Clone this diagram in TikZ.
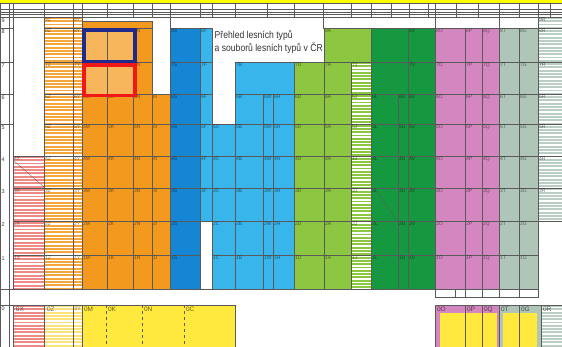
\documentclass[tikz,border=0pt]{standalone}
\usepackage{fontspec}
\setmainfont{Liberation Sans}
\newfontfamily\titlefont[FakeStretch=0.86]{Liberation Sans}
\definecolor{cOr}{HTML}{F39A1E}
\definecolor{cOrL}{HTML}{F7B55C}
\definecolor{cDB}{HTML}{1586D4}
\definecolor{cLB}{HTML}{38B5EA}
\definecolor{cLG}{HTML}{8DC641}
\definecolor{cDG}{HTML}{15983F}
\definecolor{cPk}{HTML}{D486C0}
\definecolor{cGy}{HTML}{AEC5B8}
\definecolor{cYe}{HTML}{FFE93E}
\definecolor{cSal}{HTML}{EE8A86}
\definecolor{cOrS}{HTML}{F5A63A}
\definecolor{cYeS}{HTML}{FBE37A}
\definecolor{cNavy}{HTML}{1F2A8C}
\definecolor{cRed}{HTML}{F01818}
\definecolor{cTop}{HTML}{FFFF00}
\definecolor{cLine}{HTML}{5A5A5A}
\newcommand\hstripes[5]{%
  \begin{scope}
    \clip (#1,#2) rectangle (#3,#4);
    \fill[white] (#1,#2) rectangle (#3,#4);
    \foreach \ii in {0,...,85}{\fill[#5] (#1,{#2+3.3*\ii}) rectangle (#3,{#2+3.3*\ii+1.9});}
  \end{scope}}
% #1 x1, #2 x2, #3 style, #4 letter, #5 top row, #6 bottom row
\newcommand\cellrow[6]{%
  \foreach \r/\ya/\yb in {9/17/28,8/28/62,7/62/94,6/94/124,5/124/156,4/156/188,3/188/221,2/221/255,1/255/289}{%
    \ifnum\r>#5\relax\else\ifnum\r<#6\relax\else
      \draw[cellb,#3] (#1,\ya) rectangle (#2,\yb);
      \node[code] (n\r#4) at (#1,\ya) {\r#4};
    \fi\fi}}
\begin{document}
\begin{tikzpicture}[x=1pt,y=-1pt,
  grid/.style={draw=cLine,line width=0.3pt},
  cellb/.style={draw=cLine,line width=0.35pt},
  code/.style={font=\fontsize{5}{5}\selectfont,text=black,text opacity=0.5,inner sep=0.8pt,anchor=north west},
  bigcode/.style={font=\fontsize{6.5}{6.5}\selectfont,text=black,text opacity=0.6,inner sep=0.8pt,anchor=north west},
  rowno/.style={font=\fontsize{5.5}{5.5}\selectfont,text=black!75,inner sep=0.5pt,anchor=north west},
  box/.style={line width=3.6pt}
]
\useasboundingbox (0,0) rectangle (562,347);
\fill[white] (0,0) rectangle (562,347);
\fill[cTop] (0,0) rectangle (562,3.2);
% header table
\draw[grid] (0,3.2) rectangle (562,17);
\foreach \yy in {9.5,12,14.5} \draw[grid,line width=0.2pt] (0,\yy) -- (562,\yy);
\foreach \xx in {9,13,44,73,82,107,133,152,170,200,212,235,267,294,323,351,371,391,409,428,435,456,478,499,519,538,550}
  \draw[grid,line width=0.2pt] (\xx,3.2) -- (\xx,17);
% left columns
\draw[grid] (0,17) -- (0,289);
\draw[grid] (9,17) -- (9,289);
\draw[grid] (13,17) -- (13,289);
\foreach \yy in {28,62,94,124} \draw[grid] (0,\yy) -- (13,\yy);
\foreach \r/\yy in {9/17,8/28,7/62,6/94,5/124,4/156,3/188,2/221,1/255}
  \node[rowno] (row\r) at (1,{\yy+0.8}) {\r};
\hstripes{13}{156}{44}{289}{cSal}
\cellrow{13}{44}{fill=none}{X}{4}{1}
\draw[grid] (13,160) -- (44,187);
\hstripes{44}{17}{82}{289}{cOrS}
\cellrow{44}{73}{fill=none}{Z}{9}{1}
\cellrow{73}{82}{fill=none}{Y}{9}{1}
% orange block
\draw[cellb,fill=cOr] (82,21) rectangle (152,28);
\cellrow{82}{107}{fill=cOrL}{M}{8}{7}
\cellrow{107}{133}{fill=cOrL}{K}{8}{7}
\cellrow{82}{107}{fill=cOr}{M}{6}{1}
\cellrow{107}{133}{fill=cOr}{K}{6}{1}
\cellrow{133}{152}{fill=cOr}{N}{8}{1}
\cellrow{152}{170}{fill=cOr}{I}{6}{1}
\draw[grid] (170,17) -- (170,28);
% blue blocks
\cellrow{170}{200}{fill=cDB}{S}{8}{1}
\cellrow{200}{212}{fill=cLB}{F}{8}{3}
\cellrow{212}{235}{fill=cLB}{C}{5}{1}
\cellrow{235}{294}{fill=cLB}{B}{7}{7}
\cellrow{235}{263}{fill=cLB}{B}{6}{1}
\foreach \r/\ya/\yb in {6/94/124,5/124/156,4/156/188,3/188/221,2/221/255,1/255/289}{
  \draw[cellb,fill=cLB] (263,\ya) rectangle (273,\yb);
  \node[code] (w\r) at (263,\ya) {\r W};
  \draw[cellb,fill=cLB] (273,\ya) rectangle (294,\yb);
  \node[code] (h\r) at (273,\ya) {\r H};
}
% title
\node[anchor=north west,align=left,inner sep=0pt,text=black!80,
      font=\titlefont\fontsize{10}{12.6}\selectfont] (title) at (214.5,30.5)
  {Přehled lesních typů\\a souborů lesních typů v ČR};
% light green
\cellrow{324}{371}{fill=cLG}{A}{8}{8}
\cellrow{294}{324}{fill=cLG}{D}{7}{1}
\cellrow{324}{351}{fill=cLG}{A}{7}{1}
\hstripes{351}{62}{371}{289}{cLG}
\cellrow{351}{371}{fill=none}{J}{7}{1}
% dark green
\foreach \r/\ya/\yb in {8/28/62,7/62/94}{
  \draw[cellb,fill=cDG] (371,\ya) rectangle (408,\yb);
}
\cellrow{408}{435}{fill=cDG}{V}{8}{1}
\cellrow{371}{398}{fill=cDG}{L}{6}{1}
\cellrow{398}{408}{fill=cDG}{U}{6}{1}
\draw[grid] (374,188) -- (398,222);
% pink
\cellrow{435}{465}{fill=cPk}{O}{8}{1}
\cellrow{465}{482}{fill=cPk}{P}{8}{1}
\cellrow{482}{499}{fill=cPk}{Q}{8}{1}
% grey-green
\cellrow{499}{519}{fill=cGy}{T}{8}{1}
\cellrow{519}{538}{fill=cGy}{G}{8}{1}
% R stripes
\hstripes{538}{17}{562}{221}{cGy!85}
\cellrow{538}{562}{fill=none}{R}{9}{3}
% row 9 band right
\draw[grid] (323,17) rectangle (435,28);
\draw[grid] (435,17) rectangle (499,28);
\draw[grid] (499,17) rectangle (538,28);
% small table under the pink / grey blocks
\draw[grid] (435,289) rectangle (538,297);
\foreach \xx in {455,465,482,499,519} \draw[grid] (\xx,289) -- (\xx,297);
% gap row
\draw[grid] (0,289) -- (235,289);
\draw[grid] (0,289) -- (0,347);
\draw[grid] (9,289) -- (9,347);
% row 0
\draw[grid] (0,305) -- (235,305);
\node[rowno] (row0) at (1,306) {0};
\hstripes{13}{305}{44}{347}{cSal}
\hstripes{44}{305}{82}{347}{cYeS}
\draw[grid] (13,305) rectangle (44,347);
\draw[grid] (44,305) rectangle (73,347);
\draw[grid] (73,305) rectangle (82,347);
\node[bigcode] (n0X) at (15,306) {0X};
\node[bigcode] (n0Z) at (46,306) {0Z};
\node[code] (n0Y) at (73.5,306) {0Y};
\draw[cellb,fill=cYe] (82,305) rectangle (235,347);
\foreach \xx in {106,142,184} \draw[grid,dashed] (\xx,305) -- (\xx,347);
\node[bigcode] (n0M) at (83,306) {0M};
\node[bigcode] (n0K) at (107,306) {0K};
\node[bigcode] (n0N) at (143,306) {0N};
\node[bigcode] (n0C) at (185,306) {0C};
% row 0 right
\draw[cellb,fill=cPk] (435,305) rectangle (499,347);
\fill[cYe] (440,313) rectangle (497,347);
\draw[cellb,fill=cGy] (499,305) rectangle (541,347);
\fill[cYe] (503,313) rectangle (537,347);
\foreach \xx in {465,482,519} \draw[grid] (\xx,305) -- (\xx,347);
\hstripes{541}{305}{562}{347}{cGy!85}
\draw[grid] (541,305) rectangle (562,347);
\node[bigcode] (n0O) at (436,306) {0O};
\node[bigcode] (n0P) at (466,306) {0P};
\node[bigcode] (n0Q) at (483,306) {0Q};
\node[bigcode] (n0T) at (500,306) {0T};
\node[bigcode] (n0G) at (520,306) {0G};
\node[bigcode] (n0R) at (542,306) {0R};
% highlight boxes
\draw[box,cNavy] (83.8,29.8) rectangle (135.2,61.6);
\draw[box,cRed] (83.8,65.2) rectangle (135.2,95.4);
\end{tikzpicture}
\end{document}
